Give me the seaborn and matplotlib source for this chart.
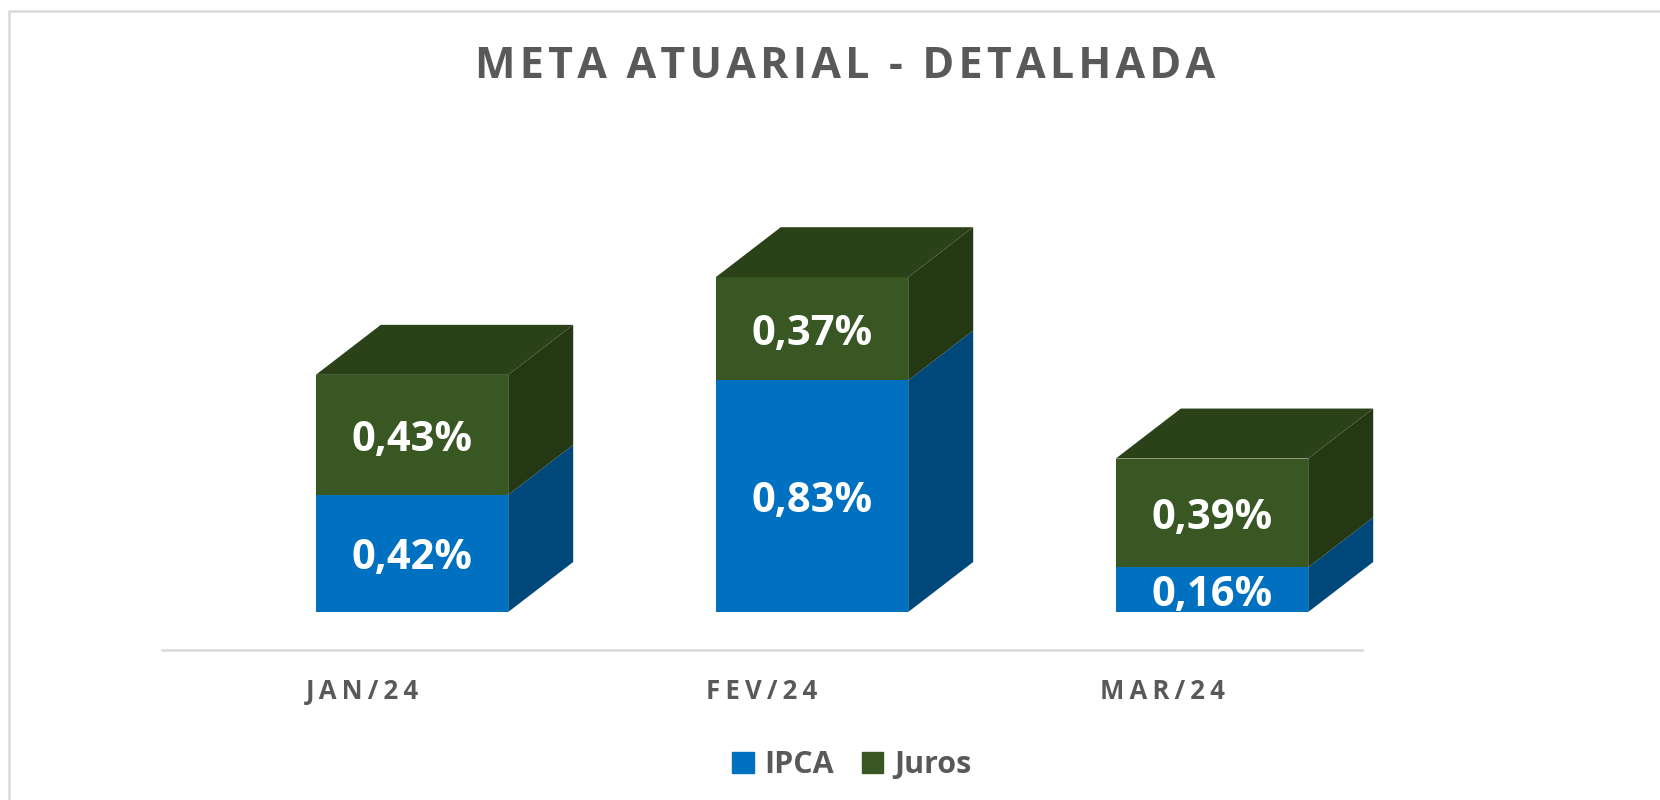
import matplotlib.pyplot as plt
import numpy as np
import pandas as pd
import seaborn as sns
from matplotlib.patches import Patch, Polygon, Rectangle

months = ["JAN/24", "FEV/24", "MAR/24"]
ipca = [0.42, 0.83, 0.16]
juros = [0.43, 0.37, 0.39]
labels_ipca = ["0,42%", "0,83%", "0,16%"]
labels_juros = ["0,43%", "0,37%", "0,39%"]
title = "META ATUARIAL - DETALHADA"

BLUE = "#0070c0"
BLUE_SIDE = "#00477a"
GREEN = "#385723"
GREEN_TOP = "#2b4219"
GREEN_SIDE = "#253814"
GREY = "#595959"
W, H = 1660, 800

sns.set_theme(style="white")
plt.rcParams["font.family"] = ["Open Sans", "DejaVu Sans"]

fig = plt.figure(figsize=(W / 100, H / 100), dpi=100)
# axes runs along the floor line, 400 px per category and 279 px per 1 %
ax = fig.add_axes([162 / W, 1 - 650 / H, 1200 / W, 550 / H])

df = pd.DataFrame({"mes": months, "IPCA": ipca, "Juros": juros})
sns.barplot(data=df, x="mes", y="IPCA", color=BLUE, width=0.481, saturation=1, linewidth=0, ax=ax)
sns.barplot(data=df, x="mes", y="Juros", bottom=df["IPCA"], color=GREEN, width=0.481,
            saturation=1, linewidth=0, ax=ax)
ax.set_xlim(-0.5, 2.5)
ax.set_ylim(-38 / 279, 512 / 279)

# the 3D look: front faces sit right of the tick, depth faces go up and right
shift, dx, dy = 0.125, 65 / 400, 50 / 279
for p in ax.patches:
    p.set_x(p.get_x() + shift)

for i in range(len(months)):
    front = ax.patches[i]
    x0 = front.get_x()
    x1 = x0 + front.get_width()
    mid = ipca[i]
    top = ipca[i] + juros[i]
    faces = [
        ([(x1, 0), (x1 + dx, dy), (x1 + dx, mid + dy), (x1, mid)], BLUE_SIDE),
        ([(x1, mid), (x1 + dx, mid + dy), (x1 + dx, top + dy), (x1, top)], GREEN_SIDE),
        ([(x0, top), (x0 + dx, top + dy), (x1 + dx, top + dy), (x1, top)], GREEN_TOP),
    ]
    for pts, col in faces:
        ax.add_patch(Polygon(pts, color=col, lw=0, clip_on=False))
    xc = x0 + front.get_width() / 2
    for yc, txt in [(mid / 2, labels_ipca[i]), (mid + juros[i] / 2, labels_juros[i])]:
        ax.annotate(txt, (xc, yc), xytext=(0, -4), textcoords="offset points", color="white",
                    fontsize=30, fontweight="bold", ha="center", va="center")

sns.despine(ax=ax, left=True, top=True, right=True)
ax.spines["bottom"].set_color("#d9d9d9")
ax.spines["bottom"].set_linewidth(1.8)
ax.set_yticks([])
ax.set_xlabel("")
ax.set_ylabel("")
ax.set_xticks(range(len(months)))
# thin spaces give the wide letter spacing of the original labels
ax.set_xticklabels(["\u2009".join(m) for m in months], fontsize=18.5, fontweight="bold", color=GREY)
ax.tick_params(axis="x", length=0, pad=20)
ax.patch.set_alpha(0)

fig.text(845 / W, 1 - 67 / H, "\u200a".join(title), fontsize=31, fontweight="bold", color=GREY,
         ha="center", va="center")

fig.legend(handles=[Patch(color=BLUE, label="IPCA"), Patch(color=GREEN, label="Juros")],
           loc="center", bbox_to_anchor=(852 / W, 1 - 765 / H), ncol=2, frameon=False,
           labelcolor=GREY, prop={"weight": "bold", "size": 22},
           handlelength=0.69, handleheight=0.69, handletextpad=0.36, columnspacing=0.92)

# outer chart frame, cut by the picture edge
fig.add_artist(Rectangle((9 / W, -0.1), 1.2, 1.1 - 11 / H, transform=fig.transFigure, fill=False,
                         edgecolor="#d9d9d9", lw=1.8))

fig.savefig("out.png", dpi=100)
